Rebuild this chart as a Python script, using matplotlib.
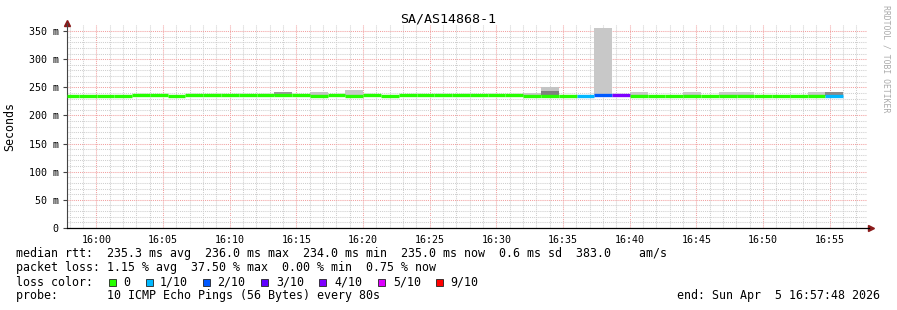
import numpy as np
import matplotlib
matplotlib.use('Agg')
import matplotlib.pyplot as plt
from matplotlib.patches import Rectangle

W, H = 897, 310

# median rtt per 80 s step (ms), first step partly hidden at the left edge
medians = [234.5, 234.5, 234.5, 234.5, 236.0, 235.5, 234.3, 235.8, 236.0, 236.0,
           236.0, 236.0, 236.0, 236.0, 234.3, 236.0, 235.0, 236.0, 234.5, 235.5,
           236.0, 236.0, 236.0, 236.0, 236.0, 236.0, 234.5, 234.5, 234.5, 234.5,
           236.0, 236.0, 234.5, 234.5, 234.5, 234.5, 234.5, 234.5, 234.5, 234.5,
           234.5, 234.5, 234.5, 234.5]
# lost pings out of 10 per step
loss = [0] * 29 + [1, 2, 4] + [0] * 11 + [1]

# smoke (spread of pings) for the steps that show any
smoke_idx = [12, 14, 16, 26, 27, 30, 32, 35, 37, 38, 42, 43]
smoke_lo = [235, 234, 235, 234, 234, 236, 234, 234, 234, 234, 234, 234]
smoke_hi = [242, 241, 245, 239, 250, 355, 241.5, 241, 241, 241, 241, 242.5]
smoke_col = ['#9a9a9a', '#c4c4c4', '#c8c8c8', '#c8c8c8', '#c4c4c4', '#c8c8c8',
             '#c8c8c8', '#c8c8c8', '#c8c8c8', '#c8c8c8', '#c8c8c8', '#8a8a8a']
dark_idx = [27]
dark_lo = [236]
dark_hi = [243]

loss_colors = {0: '#26ff00', 1: '#00b8ff', 2: '#0059ff', 3: '#5e00ff',
               4: '#7e00ff', 5: '#dd00ff', 9: '#ff0000'}
legend_labels = ['0', '1/10', '2/10', '3/10', '4/10', '5/10', '9/10']

# time axis in minutes from 16:00, window 15:57:48 - 16:57:48
t_start, t_end = -2.2, 57.8
step = 80 / 60
first = -1.32 - step

mono = 'DejaVu Sans Mono'
fig = plt.figure(figsize=(W / 100, H / 100), dpi=100)
ax = fig.add_axes([67 / W, 1 - 228 / H, 800 / W, (228 - 25.4) / H])
ax.set_xlim(t_start, t_end)
ax.set_ylim(0, 360)

# grid
for m in range(-2, 58):
    is_major = m % 5 == 0
    ax.axvline(m, color='#f2a0a0' if is_major else '#cfcfcf', lw=0.75,
               ls=(0, (1, 1)), zorder=0)
for v in range(10, 360, 10):
    is_major = v % 50 == 0
    ax.axhline(v, color='#f2a0a0' if is_major else '#cfcfcf', lw=0.75,
               ls=(0, (1, 1)), zorder=0)

# smoke
for i, lo, hi, c in zip(smoke_idx, smoke_lo, smoke_hi, smoke_col):
    ax.bar(first + i * step, hi - lo, width=step, bottom=lo, align='edge',
           color=c, lw=0, zorder=2)
for i, lo, hi in zip(dark_idx, dark_lo, dark_hi):
    ax.bar(first + i * step, hi - lo, width=step, bottom=lo, align='edge',
           color='#808080', lw=0, zorder=2)

# median line coloured by loss
for i, (m, l) in enumerate(zip(medians, loss)):
    x0 = max(first + i * step, t_start)
    x1 = first + (i + 1) * step
    ax.plot([x0, x1], [m, m], color=loss_colors[l], lw=2.4,
            solid_capstyle='butt', zorder=3)

# axes look
for s in ['top', 'right']:
    ax.spines[s].set_visible(False)
ax.spines['left'].set_color('#444444')
ax.spines['bottom'].set_color('#000000')
ax.spines['left'].set_linewidth(0.8)
ax.spines['bottom'].set_linewidth(0.9)
ax.spines['left'].set_bounds(0, 365)
ax.spines['bottom'].set_bounds(t_start, t_end + 0.15)

ax.set_yticks(range(0, 351, 50))
ax.set_yticklabels(['0'] + ['%d m' % v for v in range(50, 351, 50)],
                   family=mono, fontsize=7.2)
ax.set_xticks(range(0, 56, 5))
ax.set_xticklabels(['16:%02d' % m for m in range(0, 56, 5)],
                   family=mono, fontsize=7.2)
ax.tick_params(axis='y', length=3, width=0.8, color='#444444', pad=3)
ax.tick_params(axis='x', length=0, pad=5)

# arrow heads
ax.plot([t_start], [365], marker='^', ms=4.5, color='#8b1a1a', clip_on=False)
ax.plot([t_end + 0.3], [0], marker='>', ms=4.5, color='#8b1a1a', clip_on=False)

ax.set_ylabel('Seconds', family=mono, fontsize=8.4, labelpad=9)

fig.text(448 / W, 1 - 19 / H, 'SA/AS14868-1', family=mono, fontsize=9.6,
         ha='center', va='center')
fig.text(886 / W, 1 - 59 / H, 'RRDTOOL / TOBI OETIKER', family=mono,
         fontsize=5.9, color='#aaaaaa', rotation=270, ha='center', va='center')

# legend block
lines = [
    'median rtt:  235.3 ms avg  236.0 ms max  234.0 ms min  235.0 ms now  0.6 ms sd  383.0    am/s',
    'packet loss: 1.15 % avg  37.50 % max  0.00 % min  0.75 % now',
    'loss color:',
    'probe:       10 ICMP Echo Pings (56 Bytes) every 80s',
]
rows = [254, 268, 282, 296]
for txt, y in zip(lines, rows):
    fig.text(16 / W, 1 - y / H, txt, family=mono, fontsize=8.4, va='center')
fig.text(880 / W, 1 - 296 / H, 'end: Sun Apr  5 16:57:48 2026', family=mono,
         fontsize=8.4, va='center', ha='right')

box_x = [109, 146, 203, 261, 319, 378, 436]
lab_x = [123, 160, 217, 276, 334, 393, 450]
for bx, lx, key, lab in zip(box_x, lab_x, [0, 1, 2, 3, 4, 5, 9], legend_labels):
    fig.add_artist(Rectangle((bx / W, 1 - 286 / H), 7 / W, 7 / H,
                             transform=fig.transFigure, facecolor=loss_colors[key],
                             edgecolor='#222222', lw=0.6))
    fig.text(lx / W, 1 - 282 / H, lab, family=mono, fontsize=8.4, va='center')

fig.savefig('out.png', dpi=100)
